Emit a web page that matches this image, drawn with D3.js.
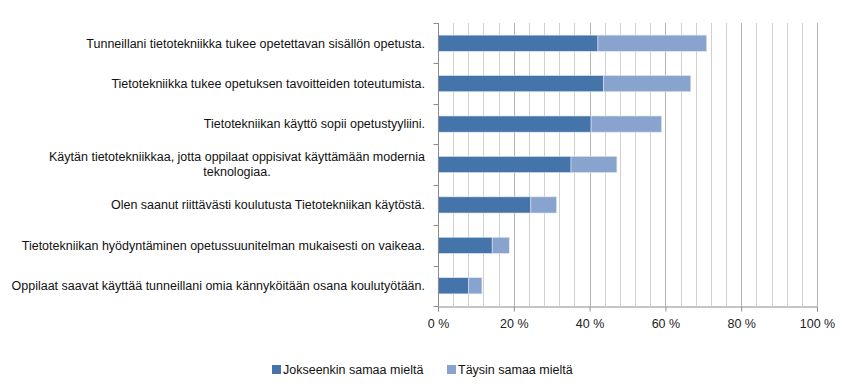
<!DOCTYPE html>
<html>
<head>
<meta charset="utf-8">
<script src="https://d3js.org/d3.v7.min.js"></script>
<style>
  * { margin: 0; padding: 0; }
  html, body { width: 852px; height: 389px; background: #fff; overflow: hidden; }
  body { font-family: 'Liberation Sans', Arial, sans-serif; }
</style>
</head>
<body>
<div id="chart"></div>
<script>
// statements, top to bottom
const categories = [
  'Tunneillani tietotekniikka tukee opetettavan sisällön opetusta.',
  'Tietotekniikka tukee opetuksen tavoitteiden toteutumista.',
  'Tietotekniikan käyttö sopii opetustyyliini.',
  'Käytän tietotekniikkaa, jotta oppilaat oppisivat käyttämään modernia|teknologiaa.',
  'Olen saanut riittävästi koulutusta Tietotekniikan käytöstä.',
  'Tietotekniikan hyödyntäminen opetussuunitelman mukaisesti on vaikeaa.',
  'Oppilaat saavat käyttää tunneillani omia kännyköitään osana koulutyötään.'
];
const jokseenkin = [42.2, 43.7, 40.4, 35.1, 24.5, 14.3, 8.1];
const taysin = [28.7, 23.0, 18.6, 12.1, 6.8, 4.5, 3.5];
const seriesNames = ['Jokseenkin samaa mieltä', 'Täysin samaa mieltä'];
const colors = ['#4574aa', '#89a3cf'];
const xTicks = [0, 20, 40, 60, 80, 100];

const W = 852, H = 389;
const margin = { left: 438, right: 35, top: 23, bottom: 83 };

const svg = d3.select('#chart').append('svg').attr('width', W).attr('height', H);

const x = d3.scaleLinear().domain([0, 100]).range([margin.left, W - margin.right]);
const y = d3.scaleBand().domain(d3.range(categories.length))
  .range([margin.top, H - margin.bottom]).paddingInner(0.6).paddingOuter(0.3);

// gridlines every 4 %
const grid = svg.append('g');
d3.range(4, 101, 4).forEach(v => {
  grid.append('line')
    .attr('x1', Math.round(x(v)) + 0.5).attr('x2', Math.round(x(v)) + 0.5)
    .attr('y1', margin.top).attr('y2', H - margin.bottom)
    .attr('stroke', v % 20 === 0 ? '#b3b3b3' : '#d0d0d0')
    .attr('stroke-width', 1);
});

// stacked bars
const stackData = categories.map((c, i) => ({ i, a: jokseenkin[i], b: taysin[i] }));
const stack = d3.stack().keys(['a', 'b'])(stackData);
stack.forEach((layer, k) => {
  svg.append('g').selectAll('rect').data(layer).join('rect')
    .attr('x', d => x(d[0]))
    .attr('y', d => y(d.data.i))
    .attr('width', d => x(d[1]) - x(d[0]))
    .attr('height', y.bandwidth())
    .attr('fill', colors[k])
    .attr('stroke', '#dfe6f0')
    .attr('stroke-width', 0.6);
});

// axes
const axisColor = '#8c8c8c';
const yAxis = svg.append('g').attr('transform', `translate(${margin.left + 0.5},0)`);
yAxis.append('line').attr('y1', margin.top).attr('y2', H - margin.bottom).attr('stroke', axisColor);
const step = y.step();
d3.range(categories.length + 1).forEach(i => {
  const yy = Math.round(margin.top + i * (H - margin.bottom - margin.top) / categories.length) + 0.5;
  yAxis.append('line').attr('x1', -5).attr('x2', 0).attr('y1', yy).attr('y2', yy).attr('stroke', axisColor);
});

const xAxis = svg.append('g').attr('transform', `translate(0,${H - margin.bottom + 0.5})`)
  .call(d3.axisBottom(x).tickValues(xTicks).tickSize(5).tickFormat(d => d + ' %'));
xAxis.select('.domain').attr('stroke', axisColor);
xAxis.selectAll('.tick line').attr('stroke', axisColor);
xAxis.selectAll('.tick text')
  .attr('y', 13).attr('dy', '0.71em')
  .attr('font-family', "'Liberation Sans', Arial, sans-serif")
  .attr('font-size', 12.5).attr('fill', '#222');

// category labels
const labels = svg.append('g').attr('font-size', 12.5).attr('fill', '#111');
categories.forEach((c, i) => {
  const cy = y(i) + y.bandwidth() / 2;
  const lines = c.split('|');
  if (lines.length === 1) {
    labels.append('text').attr('x', 425).attr('y', cy).attr('dy', '0.35em')
      .attr('text-anchor', 'end').text(c);
  } else {
    const t = labels.append('text').attr('text-anchor', 'middle');
    lines.forEach((l, j) => {
      t.append('tspan').attr('x', 237).attr('y', cy + (j - (lines.length - 1) / 2) * 15)
        .attr('dy', '0.35em').text(l);
    });
  }
});

// legend
const legend = svg.append('g').attr('font-size', 12.5).attr('fill', '#111');
const legendX = [272, 447];
seriesNames.forEach((s, k) => {
  legend.append('rect').attr('x', legendX[k]).attr('y', 365).attr('width', 9).attr('height', 9).attr('fill', colors[k]);
  legend.append('text').attr('x', legendX[k] + 11).attr('y', 370).attr('dy', '0.35em').text(s);
});
</script>
</body>
</html>
